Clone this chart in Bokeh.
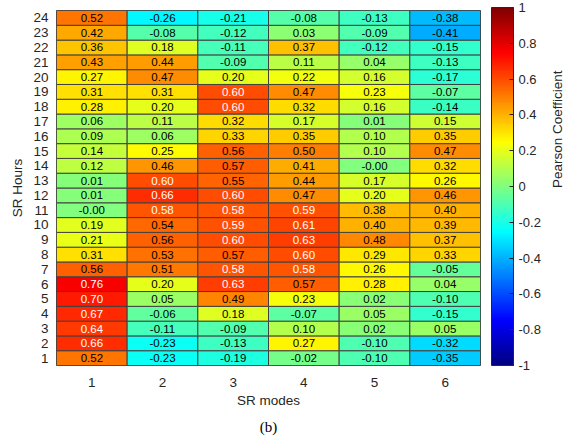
import numpy as np
from bokeh.plotting import figure
from bokeh.models import (ColumnDataSource, LinearColorMapper, ColorBar, FixedTicker,
                          Range1d, CustomJSTickFormatter, Title, LinearAxis)
from bokeh.transform import transform
from bokeh.embed import file_html
from bokeh.resources import INLINE
from bokeh.core.properties import value

# ---------------- data (hours 1..24 for each SR mode) ----------------
hours = list(range(1, 25))
mode_labels = ["1", "2", "3", "4", "5", "6"]

mode1 = [0.52, 0.66, 0.64, 0.67, 0.70, 0.76, 0.56, 0.31, 0.21, 0.19, -0.0, 0.01,
         0.01, 0.12, 0.14, 0.09, 0.06, 0.28, 0.31, 0.27, 0.43, 0.36, 0.42, 0.52]
mode2 = [-0.23, -0.23, -0.11, -0.06, 0.05, 0.20, 0.51, 0.53, 0.56, 0.54, 0.58, 0.66,
         0.60, 0.46, 0.25, 0.06, 0.11, 0.20, 0.31, 0.47, 0.44, 0.18, -0.08, -0.26]
mode3 = [-0.19, -0.13, -0.09, 0.18, 0.49, 0.63, 0.58, 0.57, 0.60, 0.59, 0.58, 0.60,
         0.55, 0.57, 0.56, 0.33, 0.32, 0.60, 0.60, 0.20, -0.09, -0.11, -0.12, -0.21]
mode4 = [-0.02, 0.27, 0.10, -0.07, 0.23, 0.57, 0.58, 0.60, 0.63, 0.61, 0.59, 0.47,
         0.44, 0.41, 0.50, 0.35, 0.17, 0.32, 0.47, 0.22, 0.11, 0.37, 0.03, -0.08]
mode5 = [-0.10, -0.10, 0.02, 0.05, 0.02, 0.28, 0.26, 0.29, 0.48, 0.40, 0.38, 0.20,
         0.17, -0.0, 0.10, 0.10, 0.01, 0.16, 0.23, 0.16, 0.04, -0.12, -0.09, -0.13]
mode6 = [-0.35, -0.32, 0.05, -0.15, -0.10, 0.04, -0.05, 0.33, 0.37, 0.39, 0.40, 0.46,
         0.26, 0.32, 0.47, 0.35, 0.15, -0.14, -0.07, -0.17, -0.13, -0.15, -0.41, -0.38]

modes = [mode1, mode2, mode3, mode4, mode5, mode6]
cbar_ticks = [-1.0, -0.8, -0.6, -0.4, -0.2, 0.0, 0.2, 0.4, 0.6, 0.8, 1.0]


# ---------------- jet palette ----------------
def jet_hex(t):
    r = np.clip(1.5 - abs(4 * t - 3), 0, 1)
    g = np.clip(1.5 - abs(4 * t - 2), 0, 1)
    b = np.clip(1.5 - abs(4 * t - 1), 0, 1)
    return "#%02x%02x%02x" % (int(round(r * 255)), int(round(g * 255)), int(round(b * 255)))


jet = [jet_hex(i / 255) for i in range(256)]

# ---------------- table for the library ----------------
xs, ys, vals, txt, tcol = [], [], [], [], []
for mi, series in enumerate(modes):
    for hi, v in enumerate(series):
        xs.append(mi + 1)
        ys.append(hours[hi])
        vals.append(v)
        txt.append(f"{v:.2f}")
        tcol.append("white" if v >= 0.575 else "black")

src = ColumnDataSource(dict(x=xs, y=ys, v=vals, t=txt, c=tcol))
mapper = LinearColorMapper(palette=jet, low=-1, high=1)

W, H = 576, 440
TOP = 10
p = figure(width=W, height=H, output_backend="svg", toolbar_location=None,
           x_range=Range1d(0.5, 6.5), y_range=Range1d(0.5, 24.5),
           min_border_left=56, min_border_right=W - 480, min_border_top=TOP,
           min_border_bottom=H - 368)
p.grid.visible = False
p.outline_line_color = "#404040"
p.outline_line_width = 1
p.background_fill_color = "white"

p.rect(x="x", y="y", width=1, height=1, source=src,
       fill_color=transform("v", mapper), line_color="#404040", line_width=1)
p.text(x="x", y="y", text="t", source=src, text_color="c",
       text_align="center", text_baseline="middle",
       text_font=value("Liberation Sans"), text_font_size="11.5px")

dark = "#262626"
for ax in (p.xaxis[0], p.yaxis[0]):
    ax.axis_line_color = None
    ax.major_tick_line_color = None
    ax.minor_tick_line_color = None
    ax.major_tick_in = 0
    ax.major_tick_out = 0
    ax.major_label_text_font = "Liberation Sans"
    ax.major_label_text_font_size = "13.5px"
    ax.major_label_text_color = dark
    ax.axis_label_text_font = "Liberation Sans"
    ax.axis_label_text_font_size = "13.5px"
    ax.axis_label_text_font_style = "normal"
    ax.axis_label_text_color = dark

p.xaxis.ticker = FixedTicker(ticks=[1, 2, 3, 4, 5, 6])
p.xaxis.major_label_overrides = {i + 1: s for i, s in enumerate(mode_labels)}
p.yaxis.ticker = FixedTicker(ticks=hours)
p.xaxis.major_label_standoff = 12
p.yaxis.major_label_standoff = 8
p.xaxis.axis_label = "SR modes"
p.yaxis.axis_label = "SR Hours"
p.xaxis.axis_label_standoff = 3
p.yaxis.axis_label_standoff = 5

cb = ColorBar(color_mapper=mapper, width=22, height=368 - TOP, padding=0, margin=0,
              location=(11, 0),
              ticker=FixedTicker(ticks=cbar_ticks),
              formatter=CustomJSTickFormatter(code="return String(Number(tick.toFixed(1)))"),
              major_tick_in=4, major_tick_out=0,
              major_tick_line_color=dark, minor_tick_line_color=None,
              bar_line_color=dark, border_line_color=None, background_fill_alpha=0,
              label_standoff=5,
              major_label_text_font="Liberation Sans", major_label_text_font_size="13px",
              major_label_text_color=dark)
p.add_layout(cb, "right")

# side axis only carrying the colour-bar label
lab_ax = LinearAxis(ticker=FixedTicker(ticks=[]), axis_line_color=None,
                    major_tick_line_color=None, minor_tick_line_color=None,
                    major_label_text_font_size="0px",
                    axis_label="Pearson Coefficient", axis_label_standoff=14,
                    axis_label_text_font="Liberation Sans",
                    axis_label_text_font_size="13.5px",
                    axis_label_text_font_style="normal",
                    axis_label_text_color=dark,
                    axis_label_orientation=np.pi / 2)
p.add_layout(lab_ax, "right")

p.add_layout(Title(text="(b)", align="center", text_font="Liberation Serif",
                   text_font_size="15px", text_font_style="normal",
                   text_color="black", standoff=12), "below")

open("out.html", "w").write(file_html(p, INLINE))
